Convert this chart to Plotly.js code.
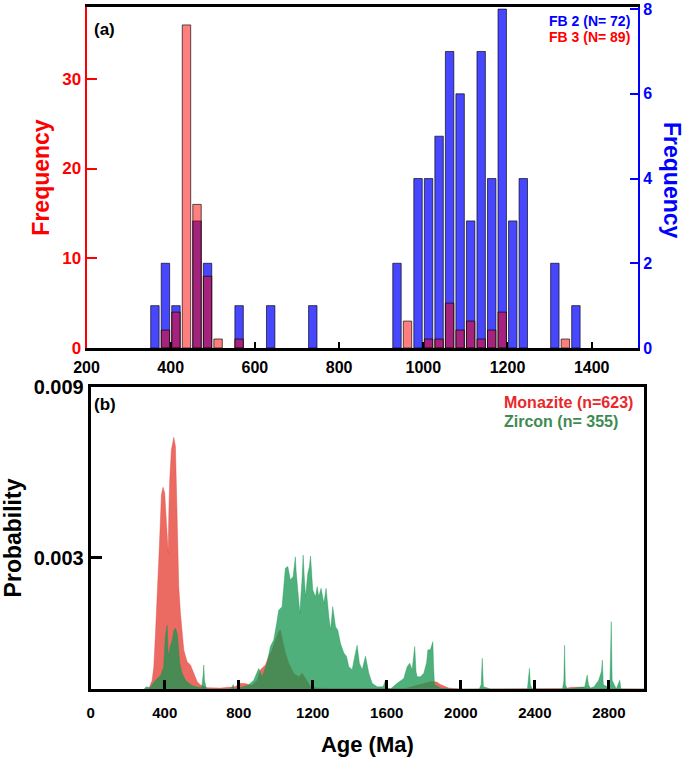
<!DOCTYPE html>
<html>
<head>
<meta charset="utf-8">
<script src="https://cdn.plot.ly/plotly-3.0.1.min.js"></script>
<style>html,body{margin:0;padding:0;background:#fff}#chart{width:685px;height:757px}</style>
</head>
<body>
<div id="chart"></div>
<script>
// ---- Panel (a): detrital histogram, bin centres (Ma) and counts ----
const fb2Ages   = [362.5, 387.5, 412.5, 462.5, 487.5, 562.5, 637.5, 737.5, 937.5, 987.5, 1012.5, 1037.5, 1062.5, 1087.5, 1112.5, 1137.5, 1162.5, 1187.5, 1212.5, 1237.5, 1312.5, 1362.5];
const fb2Counts = [1, 2, 1, 3, 2, 1, 1, 1, 2, 4, 4, 5, 7, 6, 3, 7, 4, 8, 3, 4, 2, 1];
const fb3Ages   = [387.5, 412.5, 437.5, 462.5, 487.5, 512.5, 562.5, 962.5, 1012.5, 1037.5, 1062.5, 1087.5, 1112.5, 1137.5, 1162.5, 1187.5, 1337.5];
const fb3Counts = [2, 4, 36, 16, 8, 1, 1, 3, 1, 1, 5, 2, 3, 1, 2, 4, 1];
const ageTicksA = [200, 400, 600, 800, 1000, 1200, 1400];
const fb3Ticks  = [0, 10, 20, 30];
const fb2Ticks  = [0, 2, 4, 6, 8];

// ---- Panel (b): probability density curves ----
const monaziteAge = [290, 314, 332, 341, 350, 359, 371, 382, 391, 400, 409, 416, 419, 422, 427, 436, 449, 458, 467, 476, 485, 494, 503, 521, 539, 557, 575, 593, 629, 700, 780, 810, 840, 870, 900, 917, 944, 962, 980, 998, 1016, 1025, 1038, 1052, 1070, 1097, 1124, 1143, 1161, 1188, 1224, 1300, 1700, 1764, 1800, 1840, 1870, 1890, 1935, 2000, 2560, 2600, 2650, 2690, 2990];
const monaziteProb = [0, 0, 0.0002, 0.0005, 0.00127, 0.00203, 0.00325, 0.00443, 0.00461, 0.00447, 0.00386, 0.0034, 0.0031, 0.0040, 0.00478, 0.00546, 0.00575, 0.00554, 0.00401, 0.00234, 0.00173, 0.00127, 0.00089, 0.00062, 0.00055, 0.00036, 0.00017, 0.00009, 0.00003, 0.00002, 0.00005, 0.00013, 0.00012, 0.00008, 0.0002, 0.00044, 0.00055, 0.00075, 0.00089, 0.00112, 0.00131, 0.00135, 0.00112, 0.00082, 0.00059, 0.00036, 0.00028, 0.00036, 0.00024, 0.00005, 0.00002, 0.00001, 0.00001, 0.00008, 0.00012, 0.00017, 0.00016, 0.0001, 0.00002, 0, 0.00001, 0.00004, 0.00004, 0.00001, 0];
const zirconAge = [290, 300, 320, 350, 377, 394, 403, 409, 413, 418, 421, 430, 440, 450, 458, 465, 470, 481, 494, 512, 539, 566, 600, 607, 611, 615, 625, 760, 770, 776, 800, 850, 881, 908, 926, 953, 971, 989, 1005, 1016, 1034, 1045, 1052, 1065, 1079, 1094, 1100, 1106, 1110, 1116, 1130, 1142, 1148, 1155, 1161, 1173, 1182, 1188, 1194, 1200, 1215, 1224, 1232, 1245, 1260, 1272, 1287, 1296, 1308, 1323, 1335, 1350, 1368, 1382, 1395, 1413, 1427, 1440, 1452, 1467, 1485, 1503, 1521, 1548, 1580, 1593, 1600, 1620, 1656, 1692, 1710, 1724, 1737, 1751, 1758, 1764, 1782, 1800, 1815, 1822, 1836, 1849, 1853, 1858, 1890, 1950, 2100, 2110, 2116, 2122, 2140, 2160, 2360, 2366, 2371, 2376, 2385, 2550, 2557, 2561, 2565, 2575, 2670, 2683, 2690, 2700, 2720, 2745, 2760, 2765, 2770, 2790, 2806, 2813, 2818, 2840, 2855, 2859, 2865, 2990];
const zirconProb = [0, 0.00005, 0.00003, 0.0002, 0.0003, 0.0005, 0.00119, 0.00146, 0.00146, 0.0009, 0.00074, 0.00098, 0.0011, 0.00135, 0.00139, 0.0013, 0.0012, 0.00059, 0.00036, 0.0002, 0.0001, 0.00005, 0.00003, 0.0003, 0.00055, 0.0002, 0, 0, 0.0001, 0, 0.00003, 0.00008, 0.0002, 0.00047, 0.00028, 0.00059, 0.00097, 0.00112, 0.0015, 0.0018, 0.00188, 0.0024, 0.00276, 0.0028, 0.00249, 0.00257, 0.0028, 0.00302, 0.0027, 0.00234, 0.00173, 0.0025, 0.00306, 0.0025, 0.00211, 0.00264, 0.0028, 0.00304, 0.0027, 0.00226, 0.00211, 0.00234, 0.00211, 0.0023, 0.00196, 0.0023, 0.00165, 0.00135, 0.00188, 0.00142, 0.00135, 0.00104, 0.00082, 0.00075, 0.00051, 0.00044, 0.00075, 0.001, 0.00059, 0.00044, 0.00075, 0.00036, 0.00013, 0.00005, 0.00005, 0.0002, 0.00003, 0, 0.00013, 0.00024, 0.00051, 0.00059, 0.00044, 0.00097, 0.0004, 0.00028, 0.00028, 0.00036, 0.0006, 0.00089, 0.0009, 0.00108, 0.0005, 0.0001, 0.00002, 0, 0, 0.0001, 0.0007, 0.00005, 0.00003, 0, 0, 0.0003, 0.00047, 0.0001, 0, 0, 0.0002, 0.001, 0.0001, 0, 0.00005, 0.00032, 0.0001, 0.00002, 0.00005, 0.0002, 0.0004, 0.00066, 0.0001, 0.00005, 0.0002, 0.00154, 0.0002, 0, 0.0002, 0.0002, 0, 0];
const ageTicksB = [0, 400, 800, 1200, 1600, 2000, 2400, 2800];
const probTickVals = [0.003, 0.0069];
const probTickText = ['0.003', '0.009'];

const FONT = 'Liberation Sans, Arial, Helvetica, sans-serif';
const W = 685, H = 757;
const px = v => v / W, py = v => 1 - v / H;

const traces = [
  {type: 'bar', name: 'FB 2', x: fb2Ages, y: fb2Counts, width: 20, xaxis: 'x', yaxis: 'y',
   marker: {color: 'rgba(0,0,255,0.72)', line: {color: 'rgba(0,0,0,0.65)', width: 1}}},
  {type: 'bar', name: 'FB 3', x: fb3Ages, y: fb3Counts, width: 20, xaxis: 'x', yaxis: 'y2',
   marker: {color: 'rgba(255,0,0,0.5)', line: {color: 'rgba(0,0,0,0.65)', width: 1}}},
  {type: 'scatter', mode: 'lines', name: 'Monazite', x: monaziteAge, y: monaziteProb, xaxis: 'x2', yaxis: 'y3',
   fill: 'tozeroy', fillcolor: 'rgba(230,70,60,0.8)', line: {color: 'rgba(230,70,60,0.8)', width: 0.5}},
  {type: 'scatter', mode: 'lines', name: 'Zircon', x: zirconAge, y: zirconProb, xaxis: 'x2', yaxis: 'y3',
   fill: 'tozeroy', fillcolor: 'rgba(20,150,80,0.75)', line: {color: 'rgba(20,150,80,0.75)', width: 0.5}}
];

const bold = (size, color) => ({family: FONT, size: size, color: color || '#000', weight: 'bold'});

const layout = {
  width: W, height: H,
  margin: {l: 0, r: 0, t: 0, b: 0},
  paper_bgcolor: '#fff', plot_bgcolor: '#fff',
  showlegend: false,
  barmode: 'overlay',
  bargap: 0,
  font: {family: FONT},
  xaxis: {
    domain: [px(86.5), px(638)], range: [200, 1510], anchor: 'y',
    tickmode: 'array', tickvals: ageTicksA, ticks: 'inside', ticklen: 6, tickwidth: 2, tickcolor: '#000',
    showline: true, linecolor: '#000', linewidth: 3, mirror: true, ticklabelstandoff: 3,
    showgrid: false, zeroline: false, tickfont: bold(16)
  },
  yaxis: {
    domain: [py(348), py(7)], range: [0, 8.05], anchor: 'x', side: 'right',
    tickmode: 'array', tickvals: fb2Ticks, ticks: 'inside', ticklen: 8, tickwidth: 2, tickcolor: '#0000ff',
    showline: true, linecolor: '#0000ff', linewidth: 2,
    showgrid: false, zeroline: false, tickfont: bold(16, '#0000ff')
  },
  yaxis2: {
    overlaying: 'y', anchor: 'x', side: 'left', range: [0, 38],
    tickmode: 'array', tickvals: fb3Ticks, ticks: 'inside', ticklen: 10, tickwidth: 2, tickcolor: '#ff0000',
    showline: true, linecolor: '#ff0000', linewidth: 2,
    showgrid: false, zeroline: false, tickfont: bold(17, '#ff0000'),
    title: {text: 'Frequency', font: bold(23, '#ff0000'), standoff: 6}
  },
  xaxis2: {
    domain: [px(90.7), px(644)], range: [0, 2990], anchor: 'y3',
    tickmode: 'array', tickvals: ageTicksB, ticks: 'inside', ticklen: 9, tickwidth: 3, tickcolor: '#000',
    showline: true, linecolor: '#000', linewidth: 3, mirror: true, ticklabelstandoff: 8,
    showgrid: false, zeroline: false, tickfont: bold(15),
    title: {text: 'Age (Ma)', font: bold(22), standoff: 20}
  },
  yaxis3: {
    domain: [py(689), py(387)], range: [0, 0.0069], anchor: 'x2',
    tickmode: 'array', tickvals: probTickVals, ticktext: probTickText, ticks: 'inside', ticklen: 11, tickwidth: 3, tickcolor: '#000',
    showline: true, linecolor: '#000', linewidth: 3, mirror: true,
    showgrid: false, zeroline: false, tickfont: bold(20),
    title: {text: 'Probability', font: bold(23), standoff: 8}
  },
  annotations: [
    {text: '(a)', xref: 'paper', yref: 'paper', x: px(92), y: py(29), xanchor: 'left', yanchor: 'middle', showarrow: false, font: bold(17)},
    {text: '(b)', xref: 'paper', yref: 'paper', x: px(92), y: py(405), xanchor: 'left', yanchor: 'middle', showarrow: false, font: bold(17)},
    {text: 'FB 2 (N= 72)', xref: 'paper', yref: 'paper', x: px(632), y: py(21), xanchor: 'right', yanchor: 'middle', showarrow: false, font: bold(14, '#0000ff')},
    {text: 'FB 3 (N= 89)', xref: 'paper', yref: 'paper', x: px(632), y: py(37), xanchor: 'right', yanchor: 'middle', showarrow: false, font: bold(14, '#ff0000')},
    {text: 'Monazite (n=623)', xref: 'paper', yref: 'paper', x: px(502), y: py(402), xanchor: 'left', yanchor: 'middle', showarrow: false, font: bold(16, '#e8282a')},
    {text: 'Zircon (n= 355)', xref: 'paper', yref: 'paper', x: px(502), y: py(422), xanchor: 'left', yanchor: 'middle', showarrow: false, font: bold(16, '#3d8b50')},
    {text: 'Frequency', xref: 'paper', yref: 'paper', x: px(672), y: py(180), xanchor: 'center', yanchor: 'middle', textangle: 90, showarrow: false, font: bold(23, '#0000ff')}
  ]
};

Plotly.newPlot('chart', traces, layout, {staticPlot: true, displayModeBar: false});
</script>
</body>
</html>
